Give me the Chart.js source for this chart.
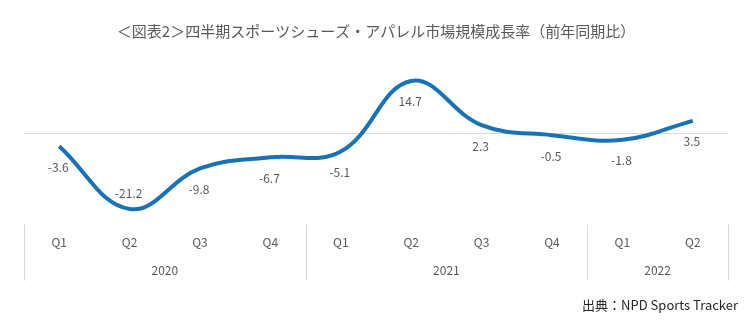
<!DOCTYPE html>
<html>
<head>
<meta charset="utf-8">
<script src="https://cdn.jsdelivr.net/npm/chart.js@4/dist/chart.umd.min.js"></script>
<style>
  html, body { margin: 0; padding: 0; background: #fff; }
  #wrap { position: relative; width: 744px; height: 322px; }
  #source {
    position: absolute; right: 6px; top: 295px;
    font-family: "Noto Sans CJK JP", "Noto Sans", sans-serif;
    font-size: 13px; color: #262626;
  }
</style>
</head>
<body>
<div id="wrap">
  <canvas id="growthChart" width="744" height="322"></canvas>
  <div id="source">出典：NPD Sports Tracker</div>
</div>
<script>
// --- Data ---
const quarters = ['Q1', 'Q2', 'Q3', 'Q4', 'Q1', 'Q2', 'Q3', 'Q4', 'Q1', 'Q2'];
const years = ['2020', '2021', '2022'];
const quartersPerYear = [4, 4, 2];
const growth = [-3.6, -21.2, -9.8, -6.7, -5.1, 14.7, 2.3, -0.5, -1.8, 3.5];

const FONT = '"Noto Sans CJK JP", "Noto Sans", sans-serif';
const GREY_TEXT = '#595959';
const LINE_GREY = '#d9d9d9';

// Value labels: below the point, except the lowest one which goes above
const valueLabels = {
    id: 'valueLabels',
    afterDatasetsDraw(chart) {
        const { ctx } = chart;
        const meta = chart.getDatasetMeta(0);
        const minVal = Math.min(...growth);
        ctx.save();
        ctx.font = '12px ' + FONT;
        ctx.fillStyle = GREY_TEXT;
        ctx.textAlign = 'center';
        ctx.textBaseline = 'middle';
        meta.data.forEach((pt, i) => {
            const v = growth[i];
            const y = v === minVal ? pt.y - 16 : pt.y + 21;
            ctx.fillText(v.toFixed(1), pt.x - 1, y);
        });
        ctx.restore();
    }
};

// Year row and group dividers under the quarter labels
const yearAxis = {
    id: 'yearAxis',
    afterDraw(chart) {
        const { ctx, chartArea } = chart;
        const x = chart.scales.x;
        const step = x.getPixelForTick(1) - x.getPixelForTick(0);
        const top = chartArea.bottom + 2;
        const bottom = chartArea.bottom + 58;
        ctx.save();
        ctx.strokeStyle = LINE_GREY;
        ctx.lineWidth = 1;
        ctx.font = '12px ' + FONT;
        ctx.fillStyle = GREY_TEXT;
        ctx.textAlign = 'center';
        ctx.textBaseline = 'middle';
        let start = 0;
        const edges = [x.getPixelForTick(0) - step / 2];
        quartersPerYear.forEach((n, k) => {
            const left = x.getPixelForTick(start) - step / 2;
            const right = x.getPixelForTick(start + n - 1) + step / 2;
            edges.push(right);
            ctx.fillText(years[k], (left + right) / 2, chartArea.bottom + 48);
            start += n;
        });
        edges.forEach(px => {
            const p = Math.round(px) + 0.5;
            ctx.beginPath();
            ctx.moveTo(p, top);
            ctx.lineTo(p, bottom);
            ctx.stroke();
        });
        ctx.restore();
    }
};

const chart = new Chart(document.getElementById('growthChart'), {
    type: 'line',
    data: {
        labels: quarters,
        datasets: [{
            data: growth,
            borderColor: '#1772b8',
            borderWidth: 4,
            tension: 0.4,
            pointRadius: 0,
            fill: false
        }]
    },
    options: {
        responsive: false,
        animation: false,
        layout: { padding: { left: 24, right: 16, bottom: 67 } },
        scales: {
            x: {
                offset: true,
                grid: { display: false },
                border: { display: false },
                ticks: {
                    color: GREY_TEXT,
                    font: { family: FONT, size: 12 },
                    padding: 5
                }
            },
            y: {
                min: -25,
                max: 20,
                border: { display: false },
                ticks: { display: false, stepSize: 5 },
                grid: {
                    drawTicks: false,
                    color: c => (c.tick && c.tick.value === 0 ? LINE_GREY : 'rgba(0,0,0,0)')
                }
            }
        },
        plugins: {
            legend: { display: false },
            tooltip: { enabled: false },
            title: {
                display: true,
                text: '＜図表2＞四半期スポーツシューズ・アパレル市場規模成長率（前年同期比）',
                color: GREY_TEXT,
                font: { family: FONT, size: 15, weight: 'normal' },
                padding: { top: 22, bottom: 22 }
            }
        }
    },
    plugins: [valueLabels, yearAxis]
});
</script>
</body>
</html>
